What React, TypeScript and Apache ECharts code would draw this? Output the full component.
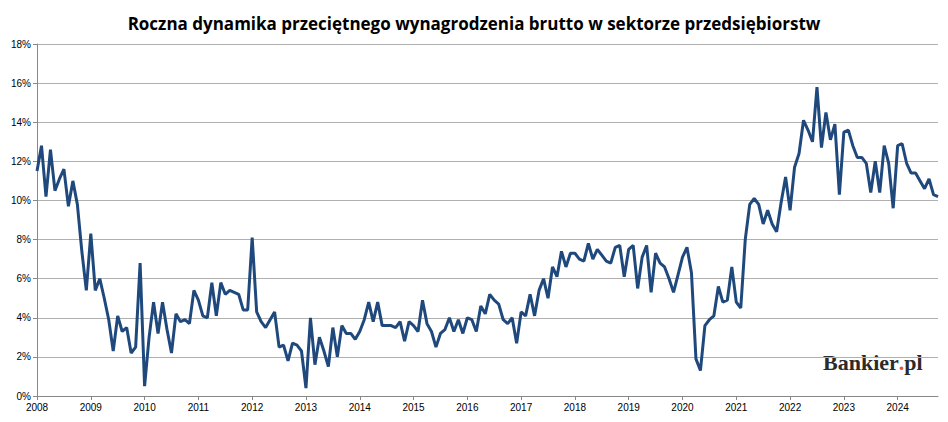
import React, { useEffect, useRef } from "react";
import * as echarts from "echarts";

const years = [2008,2009,2010,2011,2012,2013,2014,2015,2016,2017,2018,2019,2020,2021,2022,2023,2024];
const v2008 = [11.5,12.8,10.2,12.6,10.5,11.1,11.6,9.7,11.0,9.8,7.4,5.4];
const v2009 = [8.3,5.4,6.0,5.0,3.9,2.3,4.1,3.3,3.5,2.2,2.5,6.8];
const v2010 = [0.5,3.0,4.8,3.2,4.8,3.4,2.2,4.2,3.8,3.9,3.7,5.4];
const v2011 = [4.9,4.1,4.0,5.8,4.1,5.8,5.2,5.4,5.3,5.2,4.4,4.4];
const v2012 = [8.1,4.3,3.8,3.5,3.9,4.3,2.5,2.6,1.8,2.7,2.6,2.3];
const v2013 = [0.4,4.0,1.6,3.0,2.3,1.5,3.5,2.0,3.6,3.2,3.2,2.9];
const v2014 = [3.3,3.9,4.8,3.8,4.8,3.6,3.6,3.6,3.5,3.8,2.8,3.8];
const v2015 = [3.6,3.3,4.9,3.7,3.3,2.5,3.2,3.4,4.0,3.3,3.9,3.2];
const v2016 = [4.0,3.9,3.3,4.6,4.2,5.2,4.9,4.7,3.9,3.7,4.0,2.7];
const v2017 = [4.3,4.1,5.2,4.1,5.4,6.0,5.0,6.6,6.1,7.4,6.6,7.3];
const v2018 = [7.3,7.0,6.9,7.8,7.0,7.5,7.2,6.9,6.8,7.6,7.7,6.1];
const v2019 = [7.5,7.7,5.5,7.1,7.7,5.3,7.3,6.8,6.6,6.0,5.3,6.2];
const v2020 = [7.1,7.6,6.3,1.9,1.3,3.6,3.9,4.1,5.6,4.8,4.9,6.6];
const v2021 = [4.8,4.5,8.0,9.8,10.1,9.8,8.8,9.5,8.8,8.4,9.9,11.2];
const v2022 = [9.5,11.7,12.4,14.1,13.6,13.0,15.8,12.7,14.5,13.1,13.9,10.3];
const v2023 = [13.5,13.6,12.8,12.2,12.2,11.9,10.4,12.0,10.4,12.8,11.9,9.6];
const v2024 = [12.8,12.9,11.9,11.4,11.4,11.0,10.6,11.1,10.3,10.2];
const allYears = [v2008,v2009,v2010,v2011,v2012,v2013,v2014,v2015,v2016,v2017,v2018,v2019,v2020,v2021,v2022,v2023,v2024];
const yTicks = [0,2,4,6,8,10,12,14,16,18];

export default function App() {
  const ref = useRef<HTMLDivElement>(null);
  useEffect(() => {
    const cats: string[] = [];
    const vals: number[] = [];
    allYears.forEach((arr, i) => arr.forEach((v, m) => { cats.push(years[i] + "-" + (m + 1)); vals.push(v); }));
    const chart = echarts.init(ref.current!, null, { renderer: "svg" });
    const font = "Liberation Sans";
    chart.setOption({
      animation: false,
      backgroundColor: "#fff",
      title: { text: "Roczna dynamika przeciętnego wynagrodzenia brutto w sektorze przedsiębiorstw", left: "center", top: 2,
        textStyle: { fontFamily: "Open Sans", fontSize: 17, fontWeight: "bold", color: "#000" } },
      grid: { left: 27, right: 2, top: 36, bottom: 18 },
      xAxis: {
        type: "category", data: cats, boundaryGap: false,
        axisLine: { lineStyle: { color: "#888" } },
        axisTick: { interval: (i: number, v: string) => v.endsWith("-1"), lineStyle: { color: "#888" }, length: 4 },
        axisLabel: { interval: (i: number, v: string) => v.endsWith("-1"), formatter: (v: string) => v.split("-")[0],
          fontFamily: font, fontSize: 10, color: "#000", margin: 6 },
      },
      yAxis: {
        type: "value", min: yTicks[0], max: yTicks[yTicks.length - 1], interval: 2,
        axisLine: { show: true, lineStyle: { color: "#888" } },
        axisTick: { show: true, length: 4, lineStyle: { color: "#888" } },
        axisLabel: { formatter: "{value}%", fontFamily: font, fontSize: 10, color: "#000", margin: 6 },
        splitLine: { lineStyle: { color: "#b0b0b0", width: 1 } },
      },
      series: [{ type: "line", data: vals, symbol: "none", lineStyle: { color: "#1f497d", width: 3 } }],
      graphic: [
        { type: "rect", left: 794, top: 337, shape: { width: 134, height: 40 }, style: { fill: "#fff" } },
        { type: "text", left: 815, top: 343, style: {
          text: "Bankier{d|.}pl", fontFamily: "Liberation Serif", fontWeight: "bold", fontSize: 22, fill: "#2b2b2b",
          rich: { d: { fill: "#e8552a", fontFamily: "Liberation Serif", fontWeight: "bold", fontSize: 22 } } } },
      ],
    });
    return () => chart.dispose();
  }, []);
  return <div ref={ref} style={{ width: 932, height: 406 }} />;
}
